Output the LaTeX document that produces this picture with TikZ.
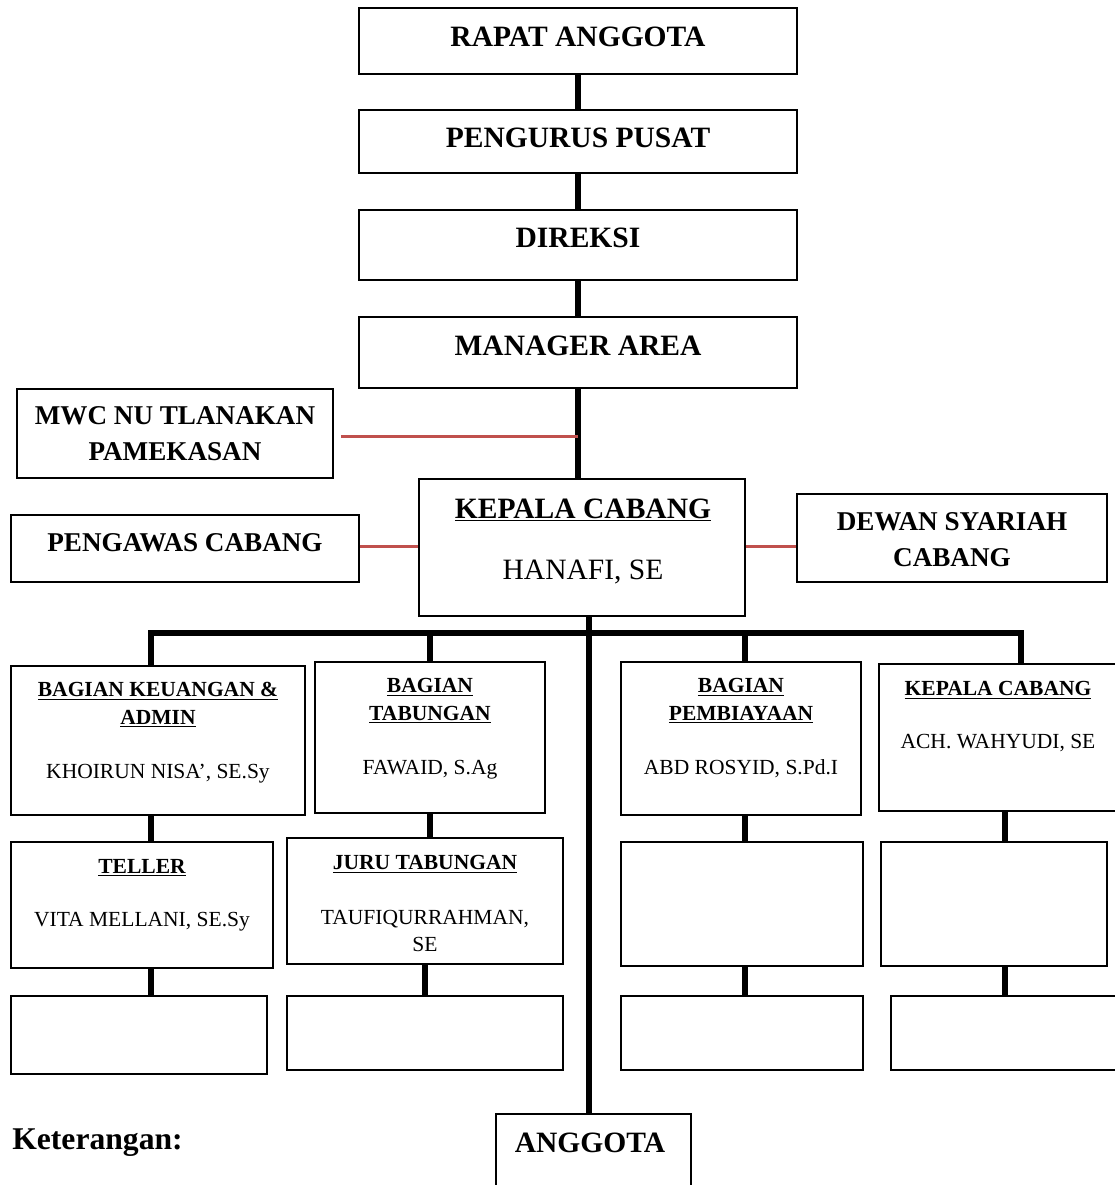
\documentclass[tikz,border=0pt]{standalone}
\usepackage{fontspec}
\setmainfont{Liberation Serif}
\usepackage{tikz}
\usetikzlibrary{calc,fit}

\definecolor{linkred}{RGB}{192,80,77}

\begin{document}
\begin{tikzpicture}[x=0.025cm, y=-0.025cm,
  box/.style={draw, line width=1.2pt, inner sep=0pt},
  conn/.style={line width=3.8pt},
  link/.style={line width=1.5pt, draw=linkred},
  big/.style={inner sep=0pt, align=center, font=\fontsize{21}{26}\selectfont\bfseries},
  side/.style={inner sep=0pt, align=center, font=\fontsize{19.3}{25.5}\selectfont\bfseries},
  bigname/.style={inner sep=0pt, align=center, font=\fontsize{21}{26}\selectfont},
  small/.style={inner sep=0pt, align=center, font=\fontsize{15.3}{19.7}\selectfont\bfseries},
  smallname/.style={inner sep=0pt, align=center, font=\fontsize{15.3}{19.7}\selectfont}]
  \useasboundingbox (0,0) rectangle (1114,1185);
  % kotak atas
  \node[box, fit={(359,8) (797,74)}] (rapat) {};
  \node[box, fit={(359,110) (797,173)}] (pengurus) {};
  \node[box, fit={(359,210) (797,280)}] (direksi) {};
  \node[box, fit={(359,317) (797,388)}] (manager) {};
  \node[box, fit={(17,389) (333,478)}] (mwc) {};
  \node[box, fit={(419,479) (745,616)}] (kepala) {};
  \node[box, fit={(11,515) (359,582)}] (pengawas) {};
  \node[box, fit={(797,494) (1107,582)}] (dewan) {};
  \node[big] (rapatT) at (578,37) {RAPAT ANGGOTA};
  \node[big] (pengurusT) at (578,138) {PENGURUS PUSAT};
  \node[big] (direksiT) at (578,238) {DIREKSI};
  \node[big] (managerT) at (578,346) {MANAGER AREA};
  \node[side] (mwcT) at (175,434) {MWC NU TLANAKAN\\PAMEKASAN};
  \node[big] (kepalaT) at (583,510) {\underline{KEPALA CABANG}};
  \node[bigname] (kepalaN) at (583,572) {HANAFI, SE};
  \node[side] (pengawasT) at (185,543) {PENGAWAS CABANG};
  \node[side] (dewanT) at (952,540) {DEWAN SYARIAH\\CABANG};
  % baris bagian
  \node[box, fit={(11,666) (305,815)}] (b1) {};
  \node[box, fit={(315,662) (545,813)}] (b2) {};
  \node[box, fit={(621,662) (861,815)}] (b3) {};
  \node[box, fit={(879,664) (1125,811)}] (b4) {};
  \node[small] (b1T) at (158,705) {\underline{BAGIAN KEUANGAN \&}\\\underline{ADMIN}};
  \node[smallname] (b1N) at (158,774) {KHOIRUN NISA', SE.Sy};
  \node[small] (b2T) at (430,701) {\underline{BAGIAN}\\\underline{TABUNGAN}};
  \node[smallname] (b2N) at (430,770) {FAWAID, S.Ag};
  \node[small] (b3T) at (741,701) {\underline{BAGIAN}\\\underline{PEMBIAYAAN}};
  \node[smallname] (b3N) at (741,769) {ABD ROSYID, S.Pd.I};
  \node[small] (b4T) at (998,690) {\underline{KEPALA CABANG}};
  \node[smallname] (b4N) at (998,743) {ACH. WAHYUDI, SE};
  \node[box, fit={(11,842) (273,968)}] (c1) {};
  \node[box, fit={(287,838) (563,964)}] (c2) {};
  \node[box, fit={(621,842) (863,966)}] (c3) {};
  \node[box, fit={(881,842) (1107,966)}] (c4) {};
  \node[small] (c1T) at (142,868) {\underline{TELLER}};
  \node[smallname] (c1N) at (142,922) {VITA MELLANI, SE.Sy};
  \node[small] (c2T) at (425,864) {\underline{JURU TABUNGAN}};
  \node[smallname] (c2N) at (425,931) {TAUFIQURRAHMAN,\\SE};
  \node[box, fit={(11,996) (267,1074)}] (d1) {};
  \node[box, fit={(287,996) (563,1070)}] (d2) {};
  \node[box, fit={(621,996) (863,1070)}] (d3) {};
  \node[box, fit={(891,996) (1125,1070)}] (d4) {};
  \node[box, fit={(496,1114) (691,1200)}] (anggota) {};
  \node[big] (anggotaT) at (590,1143) {ANGGOTA};
  \node[inner sep=0pt, anchor=west, font=\fontsize{22.5}{27}\selectfont\bfseries] (ket) at (12,1143) {Keterangan:};
  % garis penghubung
  \coordinate (spine) at (589,616);
  \coordinate (busL) at (151,633);
  \coordinate (busR) at (1021,633);
  \coordinate (colR) at (1005,0);
  \draw[conn] (rapat) -- (pengurus);
  \draw[conn] (pengurus) -- (direksi);
  \draw[conn] (direksi) -- (manager);
  \draw[conn] (manager.south) -- (manager.south |- kepala.north);
  \draw[conn] (spine) -- (spine |- anggota.north);
  \draw[conn] (busL |- b1.north) -- (busL) -- (busR) -- (busR |- b4.north);
  \draw[conn] (b2.north) -- (b2.north |- busL);
  \draw[conn] ($(b3.north)+(4,0)$) -- ($(b3.north |- busL)+(4,0)$);
  \draw[conn] (busL |- b1.south) -- (busL |- c1.north);
  \draw[conn] (busL |- c1.south) -- (busL |- d1.north);
  \draw[conn] (b2.south) -- (b2.south |- c2.north);
  \draw[conn] (c2.south) -- (c2.south |- d2.north);
  \draw[conn] ($(b3.south)+(4,0)$) -- ($(b3.south |- c3.north)+(4,0)$);
  \draw[conn] ($(c3.south)+(3,0)$) -- ($(c3.south |- d3.north)+(3,0)$);
  \draw[conn] (colR |- b4.south) -- (colR |- c4.north);
  \draw[conn] (colR |- c4.south) -- (colR |- d4.north);
  \draw[link] ($(mwc.east)+(7,3)$) -- ($(mwc.east -| manager.south)+(0,3)$);
  \draw[link] ($(pengawas.east)+(0,-2)$) -- ($(pengawas.east -| kepala.west)+(0,-2)$);
  \draw[link] ($(kepala.east |- pengawas.east)+(0,-2)$) -- ($(pengawas.east -| dewan.west)+(0,-2)$);
\end{tikzpicture}
\end{document}
